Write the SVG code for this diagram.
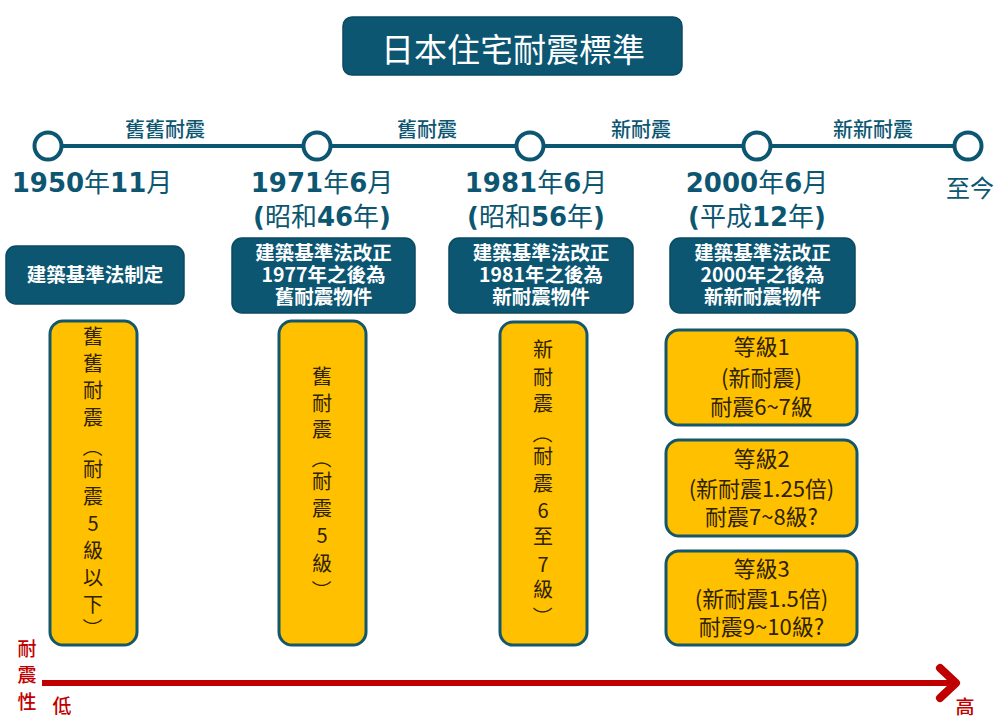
<svg xmlns="http://www.w3.org/2000/svg" width="1000" height="725" viewBox="0 0 1000 725">
<defs>
<style>
.cjk{font-family:"Noto Sans CJK TC","Noto Sans CJK SC",sans-serif;}
.dk{fill:#0c5672;stroke:#0a4a62;stroke-width:1.5;}
.yl{fill:#ffc000;stroke:#14566a;stroke-width:3;}
.wt{fill:#ffffff;font-family:"Noto Sans CJK TC",sans-serif;font-weight:bold;font-size:19.5px;text-anchor:middle;}
.yt{fill:#2e2200;font-family:"Noto Sans CJK TC",sans-serif;font-size:20px;text-anchor:middle;}
.yt2{fill:#2e2200;font-family:"Noto Sans CJK TC",sans-serif;font-size:22px;text-anchor:middle;}
.dt{fill:#0c5672;font-family:"Noto Sans CJK TC",sans-serif;font-size:26px;text-anchor:middle;}
.num{font-family:"DejaVu Sans",sans-serif;font-weight:bold;}
.lb{fill:#0c5672;font-family:"Noto Sans CJK TC",sans-serif;font-size:20px;text-anchor:middle;font-weight:500;}
.node{fill:#ffffff;stroke:#0c5672;stroke-width:4;}
.red{fill:#c00000;font-family:"Noto Sans CJK TC",sans-serif;font-size:19px;font-weight:500;text-anchor:middle;}
</style>
</defs>
<rect width="1000" height="725" fill="#ffffff"/>

<g id="title">
<rect class="dk" x="343" y="17" width="339" height="58" rx="9"/>
<text x="513" y="62" fill="#ffffff" class="cjk" font-size="33" text-anchor="middle">日本住宅耐震標準</text>
</g>

<g id="connectors">
<line x1="48" y1="146" x2="968" y2="146" stroke="#0c5672" stroke-width="4"/>
<line x1="42" y1="683" x2="950" y2="683" stroke="#c00000" stroke-width="6"/>
<polyline points="940,668 956,683 940,698" fill="none" stroke="#c00000" stroke-width="8" stroke-linecap="round" stroke-linejoin="round"/>
</g>

<g id="period-labels">
<text class="lb" x="165" y="137">舊舊耐震</text>
<text class="lb" x="427" y="137">舊耐震</text>
<text class="lb" x="641" y="137">新耐震</text>
<text class="lb" x="873" y="137">新新耐震</text>
</g>

<g id="node-1950">
<circle class="node" cx="48" cy="146" r="13.5"/>
<text class="dt" x="92" y="192"><tspan class="num">1950</tspan>年<tspan class="num">11</tspan>月</text>
</g>
<g id="node-1971">
<circle class="node" cx="317" cy="146" r="13.5"/>
<text class="dt" x="322" y="192"><tspan class="num">1971</tspan>年<tspan class="num">6</tspan>月</text>
<text class="dt" x="322" y="226"><tspan class="num">(</tspan>昭和<tspan class="num">46</tspan>年<tspan class="num">)</tspan></text>
</g>
<g id="node-1981">
<circle class="node" cx="530" cy="146" r="13.5"/>
<text class="dt" x="536" y="192"><tspan class="num">1981</tspan>年<tspan class="num">6</tspan>月</text>
<text class="dt" x="536" y="226"><tspan class="num">(</tspan>昭和<tspan class="num">56</tspan>年<tspan class="num">)</tspan></text>
</g>
<g id="node-2000">
<circle class="node" cx="757" cy="146" r="13.5"/>
<text class="dt" x="757" y="192"><tspan class="num">2000</tspan>年<tspan class="num">6</tspan>月</text>
<text class="dt" x="757" y="226"><tspan class="num">(</tspan>平成<tspan class="num">12</tspan>年<tspan class="num">)</tspan></text>
</g>
<g id="node-now">
<circle class="node" cx="968" cy="146" r="13.5"/>
<text x="970" y="197" fill="#0c5672" class="cjk" font-size="24" text-anchor="middle">至今</text>
</g>

<g id="law-1950">
<rect class="dk" x="6" y="246" width="178" height="58" rx="10"/>
<text class="wt" x="95" y="282">建築基準法制定</text>
</g>
<g id="law-1971">
<rect class="dk" x="232" y="238" width="183" height="75" rx="10"/>
<text class="wt" x="323.5" y="260">建築基準法改正</text>
<text class="wt" x="323.5" y="282">1977年之後為</text>
<text class="wt" x="323.5" y="304">舊耐震物件</text>
</g>
<g id="law-1981">
<rect class="dk" x="449" y="238" width="184" height="75" rx="10"/>
<text class="wt" x="541" y="260">建築基準法改正</text>
<text class="wt" x="541" y="282">1981年之後為</text>
<text class="wt" x="541" y="304">新耐震物件</text>
</g>
<g id="law-2000">
<rect class="dk" x="670" y="238" width="185" height="75" rx="10"/>
<text class="wt" x="762.5" y="260">建築基準法改正</text>
<text class="wt" x="762.5" y="282">2000年之後為</text>
<text class="wt" x="762.5" y="304">新新耐震物件</text>
</g>

<g id="grade-oldold">
<rect class="yl" x="50" y="321" width="87" height="324" rx="13"/>
<text class="yt">
<tspan x="93" y="344">舊</tspan><tspan x="93" y="371">舊</tspan><tspan x="93" y="398">耐</tspan><tspan x="93" y="425">震</tspan><tspan x="93" y="477">耐</tspan><tspan x="93" y="504">震</tspan><tspan x="93" y="531">5</tspan><tspan x="93" y="558">級</tspan><tspan x="93" y="585">以</tspan><tspan x="93" y="612">下</tspan>
</text>
<text class="yt" transform="translate(93,447) rotate(90)" x="0" y="7.6">（</text>
<text class="yt" transform="translate(93,628) rotate(90)" x="0" y="7.6">）</text>
</g>
<g id="grade-old">
<rect class="yl" x="279" y="321" width="87" height="324" rx="13"/>
<text class="yt">
<tspan x="322" y="384">舊</tspan><tspan x="322" y="411">耐</tspan><tspan x="322" y="437">震</tspan><tspan x="322" y="489">耐</tspan><tspan x="322" y="516">震</tspan><tspan x="322" y="543">5</tspan><tspan x="322" y="571">級</tspan>
</text>
<text class="yt" transform="translate(322,458.5) rotate(90)" x="0" y="7.6">（</text>
<text class="yt" transform="translate(322,590) rotate(90)" x="0" y="7.6">）</text>
</g>
<g id="grade-new">
<rect class="yl" x="500" y="322" width="87" height="323" rx="13"/>
<text class="yt">
<tspan x="543" y="357">新</tspan><tspan x="543" y="385">耐</tspan><tspan x="543" y="411">震</tspan><tspan x="543" y="464">耐</tspan><tspan x="543" y="491">震</tspan><tspan x="543" y="518">6</tspan><tspan x="543" y="544">至</tspan><tspan x="543" y="572">7</tspan><tspan x="543" y="597">級</tspan>
</text>
<text class="yt" transform="translate(543,433.5) rotate(90)" x="0" y="7.6">（</text>
<text class="yt" transform="translate(543,616.5) rotate(90)" x="0" y="7.6">）</text>
</g>
<g id="grade-1">
<rect class="yl" x="666" y="330" width="191" height="95" rx="13"/>
<text class="yt2" x="761.5" y="355">等級1</text>
<text class="yt2" x="761.5" y="386">(新耐震)</text>
<text class="yt2" x="761.5" y="415">耐震6~7級</text>
</g>
<g id="grade-2">
<rect class="yl" x="666" y="440" width="191" height="96" rx="13"/>
<text class="yt2" x="761.5" y="467">等級2</text>
<text class="yt2" x="761.5" y="497">(新耐震1.25倍)</text>
<text class="yt2" x="761.5" y="525">耐震7~8級?</text>
</g>
<g id="grade-3">
<rect class="yl" x="666" y="551" width="191" height="94" rx="13"/>
<text class="yt2" x="761.5" y="577">等級3</text>
<text class="yt2" x="761.5" y="607">(新耐震1.5倍)</text>
<text class="yt2" x="761.5" y="635">耐震9~10級?</text>
</g>

<g id="axis-labels">
<text class="red"><tspan x="27" y="656">耐</tspan><tspan x="27" y="682">震</tspan><tspan x="27" y="709">性</tspan></text>
<text class="red" x="62" y="713">低</text>
<text class="red" x="965" y="714">高</text>
</g>
</svg>
